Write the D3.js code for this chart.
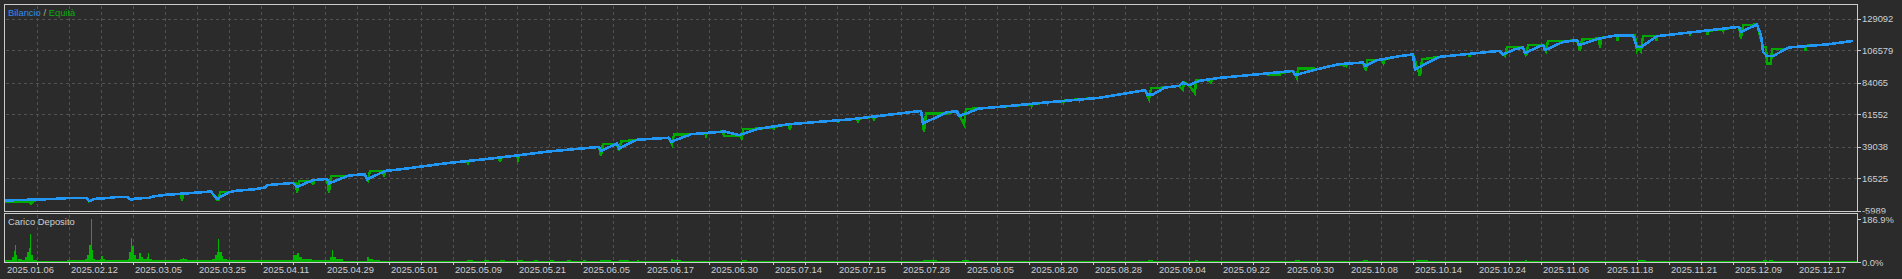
<!DOCTYPE html>
<html><head><meta charset="utf-8">
<script src="https://cdn.jsdelivr.net/npm/d3@7"></script>
<style>
html,body{margin:0;padding:0;background:#2b2b2b;overflow:hidden}
svg{display:block}
text{font-family:"Liberation Sans",Arial,sans-serif;font-size:9.4px}
</style></head><body>
<svg id="c" width="1902" height="279"></svg>
<script>
// ---------- data ----------
const dealCount = 926;
const balanceDeal = [0,16,25,33,41,42,45,52,56,61,63,65,72,74,80,92,103,106,112,115,125,130,131,144,146,154,161,162,172,180,181,190,197,222,240,257,272,297,298,306,307,316,332,333,343,360,367,377,392,422,458,459,471,476,477,487,497,522,547,570,571,574,580,587,589,592,597,607,627,644,645,656,667,679,680,686,697,704,705,717,747,749,755,759,760,769,770,779,786,787,797,806,814,816,818,826,847,864,867,868,876,878,879,881,884,892,912,924];
const balanceValue = [1050,1750,2170,2880,2880,550,2170,2880,3580,3580,1470,2450,2880,3860,4990,6180,7380,2170,6890,7800,9000,10190,11810,13430,10620,15330,16240,13010,18630,19550,15820,21870,22860,27500,30100,32920,35520,38760,35940,41150,37630,43780,45180,42370,47690,49590,46990,51600,54730,58030,64080,55220,63170,63870,60360,65770,66900,70210,73230,78650,75700,75700,80550,81670,84070,82170,85190,87300,89900,92230,89200,93420,96940,98140,95530,99750,102570,103760,93290,102080,106300,103760,107490,108690,104890,110520,106790,112630,113830,110310,115020,117340,117340,108990,108990,116640,120000,122760,123180,119660,124870,117340,105590,102570,102780,108690,111010,113330];

const equityDeal = [0,12,13,14,16,25,33,41,42,45,52,56,61,63,65,72,74,80,88,88.5,89,92,103,106,107,107.5,113.5,115,125,130,131,144,145.5,146,147,153.5,154,154.5,161,162,163,172,172.5,180,181.5,182.5,189,189.5,190,197,222,231,231.5,232,240,247,247.5,248,256,256.5,257,272,297,298,299,306,307,308,316,332,333.5,334.5,343,350,350.5,351,359,359.5,368,368.5,369,377,384,384.5,385,392,392.5,393,416,416.5,417,426,426.5,427,434,434.5,435,458,459.5,460.5,471,476,479.5,480.5,487,497,513,513.3,513.6,521,521.3,521.6,529,529.3,529.6,537,537.3,537.6,547,570,572,573,580,587,589,589.5,592,595,595.5,601,603,603.5,607,627,637.5,638,644,646,646.5,654.5,654.7,656,667,670.5,671,679,680.5,681,689,689.3,690,697,704,707.5,708.5,717,732,732.3,732.6,747,750,751,759,760.5,761.5,769.5,770.5,771.5,779,786,787.5,788.5,797,797.5,798,806,806.3,806.6,815,816,817,818,819,825.5,825.7,826,842.3,842.5,842.8,847,851,851.2,851.5,859,859.2,859.5,864,867,868,869,876,879,880.5,881,883,883.5,890,892,900,900.2,900.5,912,924];
const equityValue = [400,400,-1000,400,1750,2170,2880,2880,550,2170,2880,3580,3580,1470,2450,2880,3860,4990,5800,770,5800,6180,7380,1750,1750,6890,6890,7800,9000,10190,11810,13430,13430,6400,14630,14630,11810,15330,16240,6400,18140,18140,18630,19550,15330,21660,21660,17650,21870,22860,27500,28700,27080,28900,30100,31200,28200,31300,32800,30300,32920,35520,38760,32420,40870,40870,35940,42560,43780,45180,40440,47480,47690,48600,46780,48700,49590,46290,46290,43960,51420,51600,52500,51700,52800,54730,50510,54800,57300,56340,57400,58500,56840,58600,59900,58250,60000,64080,49310,62250,62250,63870,54730,65490,65770,66900,68600,67600,68700,70100,69290,70210,71200,70300,71300,72300,71500,72400,73230,78650,72310,80060,80550,81670,79140,84070,82170,76330,85680,85680,84070,86300,87300,89900,89690,90800,92230,86880,93920,93920,92720,93420,96940,95530,97300,98140,92230,99750,99750,97860,100300,102570,103760,88500,100460,102080,104190,102080,104200,106300,102570,108990,108990,102570,110310,110310,106300,113120,113120,113830,106300,114320,115020,108690,115500,117340,113330,117340,117340,106300,108990,106300,116640,116640,113330,116640,119300,116850,119300,120000,120300,117340,120400,121500,120370,121600,122760,123180,115020,124380,124870,108990,108990,97430,97430,107490,107490,108690,109800,106300,109900,111010,113500];

const loadStart = [0,0,1.7,3.3,4.5,5.2,5.7,6.7,8.3,10,11.2,12,12.5,13.2,14.2,15.8,30.8,33.3,40,41.2,42.2,42.8,43.5,44.2,45,47.5,48,48.8,50,61.3,62.2,63,63.7,64.7,65.5,67.2,68.2,69.2,70.8,71.7,72.2,73.3,87.5,88.8,89.7,90.8,103.3,105,105.8,106.7,107.2,108.3,109.2,110.8,144.2,145.8,147.2,148.3,153.3,162.5,163.3,164.2,165.5,169.2,180.8,181.8,184.2,187.5,231,239.5,247.5,256,264.5,272.5,281,289,297.5,307,316,333,334,368.5,459,478.5,571.5,595,645,679,705.5,760,816.5,879,882];
const loadEnd   = [926,1.7,3.3,4.5,5.2,5.7,6.2,8.3,10,11.2,12,12.5,13.2,14.2,15.8,30.8,33.3,40,41.2,42.2,42.8,43.5,44.2,45,47.5,48,48.8,50,61.3,62.2,63,63.7,64.7,65.5,67.2,68.2,69.2,70.8,71.7,72.2,73.3,87.5,88.8,89.7,90.8,103.3,105,105.8,106.7,107.2,108.3,109.2,110.8,144.2,145.8,147.2,148.3,153.3,162.5,163.3,164.2,165.5,169.2,180.8,181.8,184.2,187.5,231,234,242,250,259,266.5,274.5,283,290.5,303,312,317,334,338,371,466,482,574,596.5,647.5,681.5,711.5,761,820.5,881,884];
const loadValue = [4,7,10,22,47,72,29,12,10,22,44,62,121,29,7,6,10,7,15,32,74,186.9,51,15,7,15,28,15,7,15,44,103,71,29,12,37,22,12,22,37,15,7,15,19,12,7,15,29,44,99,44,26,15,7,29,41,22,12,7,22,51,22,12,6,22,15,8,5,7,7,7,7,7,7,7,7,10,10,7,12,7,7,9,8,7,7,7,7,8,7,7,7,8];

const priceTicks = [-5989,16525,39038,61552,84065,106579,129092];
const loadTicks = [0,186.9];
const dateLabels = ["2025.01.06","2025.02.12","2025.03.05","2025.03.25","2025.04.11","2025.04.29","2025.05.01","2025.05.09","2025.05.21","2025.06.05","2025.06.17","2025.06.30","2025.07.14","2025.07.15","2025.07.28","2025.08.05","2025.08.20","2025.08.28","2025.09.04","2025.09.22","2025.09.30","2025.10.08","2025.10.14","2025.10.24","2025.11.06","2025.11.18","2025.11.21","2025.12.09","2025.12.17"];
const dealsPerGrid = 16;

// ---------- layout ----------
const C = {bg:"#2b2b2b", grid:"#525252", border:"#cccccc", text:"#ccd0d4",
           blue:"#2196f3", green:"#00a800", bar:"#00b400"};
const L = 4.5, R = 1857.5;
const mainTop = 4.5, mainBot = 211.5, subTop = 213.5, subBot = 262.5;

const x = d3.scaleLinear().domain([0, dealCount]).range([5, 1857]);
const y = d3.scaleLinear().domain([-5989, 129092]).range([210.5, 18.5]);
const yl = d3.scaleLinear().domain([0, 186.9]).range([262, 219]);

const svg = d3.select("#c");
svg.append("rect").attr("width",1902).attr("height",279).attr("fill",C.bg);

const defs = svg.append("defs");
defs.append("clipPath").attr("id","mainClip").append("rect")
  .attr("x",5).attr("y",5).attr("width",1852).attr("height",206);
defs.append("clipPath").attr("id","labClip").append("rect")
  .attr("x",1858).attr("y",0).attr("width",44).attr("height",213.5);

const gridX = d3.range(dealsPerGrid, dealCount, dealsPerGrid);

// grid main
const gm = svg.append("g").attr("stroke",C.grid).attr("stroke-dasharray","3,3")
  .attr("shape-rendering","crispEdges");
gm.selectAll("line.v").data(gridX).join("line")
  .attr("x1",d=>Math.round(x(d))+0.5).attr("x2",d=>Math.round(x(d))+0.5)
  .attr("y1",mainTop+1).attr("y2",mainBot-1);
gm.selectAll("line.h").data(priceTicks.slice(1)).join("line")
  .attr("y1",d=>Math.round(y(d))+0.5).attr("y2",d=>Math.round(y(d))+0.5)
  .attr("x1",L+1).attr("x2",R-1);
// grid sub
const gs = svg.append("g").attr("stroke",C.grid).attr("stroke-dasharray","3,3")
  .attr("shape-rendering","crispEdges");
gs.selectAll("line").data(gridX).join("line")
  .attr("x1",d=>Math.round(x(d))+0.5).attr("x2",d=>Math.round(x(d))+0.5)
  .attr("y1",subTop+1).attr("y2",subBot-1);

// load bars
svg.append("g").attr("fill",C.bar).attr("shape-rendering","crispEdges")
  .selectAll("rect").data(loadValue).join("rect")
  .attr("x",(v,i)=>x(loadStart[i]))
  .attr("width",(v,i)=>Math.max(1, x(loadEnd[i]) - x(loadStart[i])))
  .attr("y",v=>yl(v))
  .attr("height",v=>yl(0)-yl(v));

// lines
const balance = balanceDeal.map((d,i)=>[d,balanceValue[i]]);
const equity = equityDeal.map((d,i)=>[d,equityValue[i]]);
const line = d3.line().x(p=>x(p[0])).y(p=>y(p[1]));
const gl = svg.append("g").attr("clip-path","url(#mainClip)");
gl.append("path").datum(equity).attr("d",line).attr("fill","none")
  .attr("stroke",C.green).attr("stroke-width",2.4).attr("stroke-linejoin","miter")
  .attr("shape-rendering","crispEdges");
gl.append("path").datum(balance).attr("d",line).attr("fill","none")
  .attr("stroke",C.blue).attr("stroke-width",2.6).attr("stroke-linejoin","round")
  .attr("shape-rendering","crispEdges");

// borders
const gb = svg.append("g").attr("fill","none").attr("stroke",C.border).attr("shape-rendering","crispEdges");
gb.append("rect").attr("x",L).attr("y",mainTop).attr("width",R-L).attr("height",mainBot-mainTop);
gb.append("rect").attr("x",L).attr("y",subTop).attr("width",R-L).attr("height",subBot-subTop);

// right axis ticks + labels
const ga = svg.append("g").attr("stroke",C.border).attr("shape-rendering","crispEdges");
ga.selectAll("line.p").data(priceTicks).join("line")
  .attr("x1",R).attr("x2",R+3).attr("y1",d=>Math.round(y(d))+0.5).attr("y2",d=>Math.round(y(d))+0.5);
ga.selectAll("line.l").data(loadTicks).join("line")
  .attr("x1",R).attr("x2",R+3).attr("y1",d=>Math.round(yl(d))+0.5).attr("y2",d=>Math.round(yl(d))+0.5);
ga.selectAll("line.x").data(gridX).join("line")
  .attr("x1",d=>Math.round(x(d))+0.5).attr("x2",d=>Math.round(x(d))+0.5)
  .attr("y1",subBot).attr("y2",subBot+2);

svg.append("g").attr("clip-path","url(#labClip)").selectAll("text").data(priceTicks).join("text")
  .attr("x",1862).attr("y",d=>y(d)+3.5).attr("fill",C.text)
  .text(d=>String(d));
svg.append("g").selectAll("text").data(loadTicks).join("text")
  .attr("x",1862).attr("y",d=>yl(d)+(d===0?3.5:4)).attr("fill",C.text)
  .text(d=>d.toFixed(1)+"%");

// date labels
svg.append("g").selectAll("text").data(dateLabels).join("text")
  .attr("x",(d,i)=>x(i*dealsPerGrid*2)+2).attr("y",273).attr("fill",C.text)
  .text(d=>d);

// titles
const t = svg.append("text").attr("x",8).attr("y",16);
t.append("tspan").attr("fill","#2f8ce6").text("Bilancio");
t.append("tspan").attr("fill","#b0a890").text(" / ");
t.append("tspan").attr("fill","#10a810").text("Equità");
svg.append("text").attr("x",8).attr("y",225).attr("fill",C.text).text("Carico Deposito");
</script>
</body></html>
